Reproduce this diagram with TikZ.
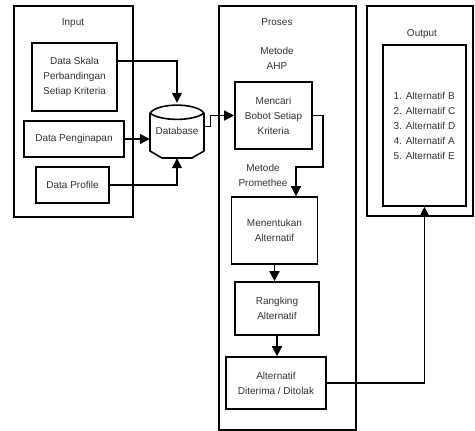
\documentclass[tikz,border=0pt]{standalone}
\usepackage{fontspec}
\setmainfont{Liberation Sans}
\usepackage{tikz}
\usetikzlibrary{shapes,arrows.meta}
\usetikzlibrary{positioning}
\tikzset{line/.style={draw, line width=1.4pt, -{Triangle[length=10pt,width=10pt]}}}
\tikzstyle{block} = [draw, line width=1.6pt, align=center, inner sep=2pt]
\tikzstyle{panel} = [draw, line width=1.6pt]
\tikzstyle{caption} = [align=center, inner sep=0pt]

\begin{document}
\begin{tikzpicture}[x=1pt, y=-1pt, font=\fontsize{10}{15}\selectfont, text=black!80]
    \useasboundingbox (0,0) rectangle (475,431);
    % Place panels
    \node [panel, minimum width=119pt, minimum height=211pt] (inpanel) at (73.5,111.5) {};
    \node [panel, minimum width=137pt, minimum height=424pt] (propanel) at (287.5,218) {};
    \node [panel, minimum width=106pt, minimum height=210pt] (outpanel) at (420,111) {};

    \node [caption] (intitle) at (73,23) {Input};
    \node [caption] (protitle) at (277,22) {Proses};
    \node [caption] (ahp) at (277,58) {Metode\\AHP};
    \node [caption] (prom) at (263,175) {Metode\\Promethee};
    \node [caption] (outtitle) at (422,34) {Output};

    % Place nodes
    \node [block, minimum width=85pt, minimum height=68pt] (skala) at (74.5,77) {Data Skala\\Perbandingan\\Setiap Kriteria};
    \node [block, minimum width=100pt, minimum height=36pt] (penginapan) at (74,139) {Data Penginapan};
    \node [block, minimum width=73pt, minimum height=36pt] (profile) at (72.5,185) {Data Profile};
    \node [minimum width=54pt, minimum height=55pt, inner sep=0pt] (db) at (177,130.5) {\raisebox{-6pt}{Database}};
    \node [block, minimum width=77pt, minimum height=67pt] (mencari) at (273.5,115.5) {Mencari\\Bobot Setiap\\Kriteria};
    \node [block, minimum width=86pt, minimum height=67pt] (menentukan) at (274.5,230.5) {Menentukan\\Alternatif};
    \node [block, minimum width=84pt, minimum height=53pt] (rangking) at (277,308.5) {Rangking\\Alternatif};
    \node [block, minimum width=100pt, minimum height=52pt] (diterima) at (276,383) {Alternatif\\Diterima / Ditolak};
    \node [block, align=left, minimum width=83pt, minimum height=161pt] (hasil) at (424.5,125.5) {1. Alternatif B\\2. Alternatif C\\3. Alternatif D\\4. Alternatif A\\5. Alternatif E};

    % database drum
    \begin{scope}[shift={(db.center)}, line width=1.6pt]
        \draw (-27,-17.5) .. controls (-19,-28) and (19,-28) .. (27,-17.5);
        \draw (-27,-17.5) .. controls (-17,-9) and (17,-9) .. (27,-17.5);
        \draw (-27,-17.5) -- (-27,20.5) -- (-15,27.5) -- (15,27.5) -- (27,20.5) -- (27,-17.5);
    \end{scope}

    \coordinate (bend) at (296,167);

    \draw [line] ([yshift=16pt]skala.east) -| (db.north);
    \draw [line] (penginapan.east) -- (penginapan.east -| db.west);
    \draw [line] (profile.east) -| (db.south);
    \draw [line] ([yshift=4pt]db.east) -- ++(6,0) |- (mencari.west);
    \draw [line] (mencari.east) -| (bend -| 323,0) |- (bend) -- (bend |- menentukan.north);
    \draw [line] (menentukan.south) -- (menentukan.south |- rangking.north);
    \draw [line] (rangking.south) -- (rangking.south |- diterima.north);
    \draw [line] (diterima.east) -| (hasil.south);

\end{tikzpicture}
\end{document}
